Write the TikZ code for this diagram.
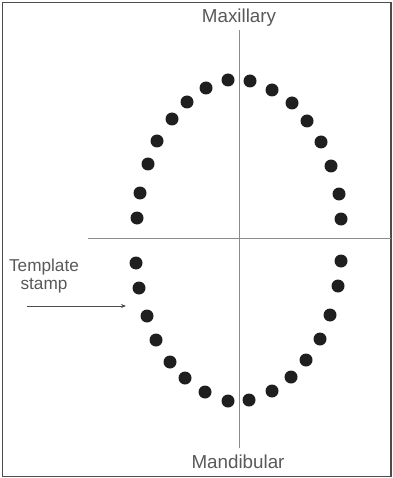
\documentclass[tikz,border=0pt]{standalone}
\usepackage{fontspec}
\setmainfont{Liberation Sans}
\usetikzlibrary{arrows.meta,positioning}

\begin{document}
\begin{tikzpicture}[
    x=1pt, y=-1pt,
    every node/.style={font=\fontsize{18.8}{20}\selectfont, text=black!65},
    tooth/.style={circle, fill=black!88, inner sep=0pt, minimum size=13pt},
    axis/.style={draw=black!45, line width=1.3pt},
    arr/.style={-{Stealth[length=5pt, width=4pt]}, draw=black!70, line width=0.8pt},
]
    \useasboundingbox (0,0) rectangle (392,478);
    \draw[draw=black!70, line width=1.6pt] (2.5,2.5) rectangle (391,476.5);

    % upper arch
    \foreach \x/\y [count=\i] in {228/80, 206/88, 187/102, 172/119, 157/141, 148/164, 140/193, 137/218,
                                  250/81, 272/90, 292/103, 307/121, 321/142, 331/166, 339/194, 341/219}
        \node[tooth] (u\i) at (\x,\y) {};
    % lower arch
    \foreach \x/\y [count=\i] in {136/263, 139/288, 147/316, 156/340, 170/362, 185/378, 205/392, 228/401,
                                  341/261, 338/286, 330/315, 320/339, 306/360, 291/377, 272/391, 249/400}
        \node[tooth] (l\i) at (\x,\y) {};

    \node (maxi) at (239,18) {Maxillary};
    \node (mand) at (238,462) {Mandibular};
    \node[align=center, font=\fontsize{17.2}{17.5}\selectfont] (stamp) at (44,276) {Template\\stamp};

    \coordinate (vtop) at (239.3,30);
    \coordinate (vbot) at (239.3,448);
    \coordinate (hleft) at (88,238.5);
    \coordinate (hright) at (391,238.5);
    \draw[axis] (vtop) -- (vbot);
    \draw[axis] (hleft) -- (hright);

    \coordinate (tail) at (27,306);
    \coordinate (tip) at (126,306);
    \draw[arr] (tail) -- (tip);
\end{tikzpicture}
\end{document}
